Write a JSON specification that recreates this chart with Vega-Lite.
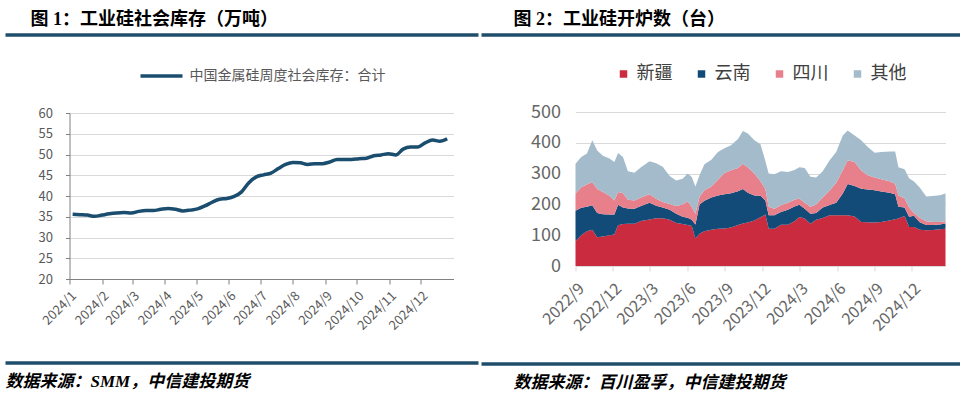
{
  "$schema": "https://vega.github.io/schema/vega-lite/v6.json",
  "background": "white",
  "padding": {"left": 3.5, "top": 11, "right": 0, "bottom": 0},
  "config": {
    "font": "Noto Sans CJK SC",
    "view": {"stroke": null},
    "axis": {"labelFont": "Noto Sans CJK SC", "title": null},
    "legend": {"layout": {"top": {"anchor": "middle"}}}
  },
  "spacing": -1,
  "resolve": {"scale": {"color": "independent"}, "legend": {"color": "independent"}},
  "hconcat": [
    {
      "columns": 1,
      "align": "none",
      "spacing": 16,
      "resolve": {"scale": {"color": "independent"}, "legend": {"color": "independent"}},
      "concat": [
        {
          "title": {"text": "图 1：工业硅社会库存（万吨）", "anchor": "start", "frame": "group", "dx": -39, "font": "Liberation Serif, Noto Sans CJK SC", "fontSize": 18, "fontWeight": "bold", "color": "#000000", "offset": 4},
          "width": 409, "height": 1,
          "data": {"values": [{}]},
          "mark": {"type": "rule", "color": "#1F4E6B", "strokeWidth": 3.5},
          "encoding": {
            "x": {"datum": -64, "scale": {"domain": [0, 409]}, "axis": null},
            "x2": {"datum": 409},
            "y": {"datum": 1, "scale": {"domain": [0, 1]}, "axis": null}
          }
        },
        {
          "width": 384, "height": 166,
          "data": {"values": [
            {"d": "2024-01-04", "v": 35.6}, {"d": "2024-01-11", "v": 35.5}, {"d": "2024-01-18", "v": 35.4}, {"d": "2024-01-25", "v": 35.1},
            {"d": "2024-02-01", "v": 35.4}, {"d": "2024-02-08", "v": 35.7}, {"d": "2024-02-15", "v": 35.9}, {"d": "2024-02-22", "v": 36.0},
            {"d": "2024-02-29", "v": 35.9}, {"d": "2024-03-07", "v": 36.3}, {"d": "2024-03-14", "v": 36.5}, {"d": "2024-03-21", "v": 36.5},
            {"d": "2024-03-28", "v": 36.8}, {"d": "2024-04-04", "v": 37.0}, {"d": "2024-04-11", "v": 36.8}, {"d": "2024-04-18", "v": 36.4},
            {"d": "2024-04-25", "v": 36.6}, {"d": "2024-05-02", "v": 36.9}, {"d": "2024-05-09", "v": 37.6}, {"d": "2024-05-16", "v": 38.5},
            {"d": "2024-05-23", "v": 39.2}, {"d": "2024-05-30", "v": 39.4}, {"d": "2024-06-06", "v": 39.9}, {"d": "2024-06-13", "v": 41.0},
            {"d": "2024-06-20", "v": 43.2}, {"d": "2024-06-27", "v": 44.6}, {"d": "2024-07-04", "v": 45.1}, {"d": "2024-07-11", "v": 45.5},
            {"d": "2024-07-18", "v": 46.6}, {"d": "2024-07-25", "v": 47.6}, {"d": "2024-08-01", "v": 48.1}, {"d": "2024-08-08", "v": 48.0},
            {"d": "2024-08-15", "v": 47.6}, {"d": "2024-08-22", "v": 47.8}, {"d": "2024-08-29", "v": 47.8}, {"d": "2024-09-05", "v": 48.2},
            {"d": "2024-09-12", "v": 48.8}, {"d": "2024-09-19", "v": 48.8}, {"d": "2024-09-26", "v": 48.8}, {"d": "2024-10-03", "v": 49.0},
            {"d": "2024-10-10", "v": 49.1}, {"d": "2024-10-17", "v": 49.7}, {"d": "2024-10-24", "v": 49.9}, {"d": "2024-10-31", "v": 50.2},
            {"d": "2024-11-07", "v": 49.9}, {"d": "2024-11-14", "v": 51.3}, {"d": "2024-11-21", "v": 51.8}, {"d": "2024-11-28", "v": 51.8},
            {"d": "2024-12-05", "v": 52.8}, {"d": "2024-12-12", "v": 53.5}, {"d": "2024-12-19", "v": 53.2}, {"d": "2024-12-26", "v": 53.8}
          ]},
          "mark": {"type": "line", "strokeWidth": 3.5, "interpolate": "monotone"},
          "encoding": {
            "x": {
              "field": "d", "type": "temporal",
              "scale": {"domain": [{"year": 2024, "month": 1, "date": 1}, {"year": 2025, "month": 1, "date": 1}]},
              "axis": {
                "values": [
                  {"year": 2024, "month": 1, "date": 1}, {"year": 2024, "month": 2, "date": 1}, {"year": 2024, "month": 3, "date": 1},
                  {"year": 2024, "month": 4, "date": 1}, {"year": 2024, "month": 5, "date": 1}, {"year": 2024, "month": 6, "date": 1},
                  {"year": 2024, "month": 7, "date": 1}, {"year": 2024, "month": 8, "date": 1}, {"year": 2024, "month": 9, "date": 1},
                  {"year": 2024, "month": 10, "date": 1}, {"year": 2024, "month": 11, "date": 1}, {"year": 2024, "month": 12, "date": 1}
                ],
                "format": "%Y/%-m", "labelAngle": -45, "grid": false,
                "domainColor": "#808080", "tickColor": "#808080", "tickSize": 5,
                "labelFontSize": 13, "labelColor": "#595959", "labelPadding": 5, "labelFlush": false, "labelOverlap": false
              }
            },
            "y": {
              "field": "v", "type": "quantitative",
              "scale": {"domain": [20, 60]},
              "axis": {
                "values": [20, 25, 30, 35, 40, 45, 50, 55, 60],
                "grid": true, "gridColor": "#D9D9D9", "domainColor": "#808080", "tickColor": "#808080", "tickSize": 4,
                "labelFontSize": 13, "labelColor": "#595959", "labelPadding": 13, "minExtent": 64
              }
            },
            "color": {
              "datum": "中国金属硅周度社会库存：合计",
              "scale": {"range": ["#1B4D6E"]},
              "legend": {
                "orient": "top", "offset": 30, "title": null,
                "symbolType": "stroke", "symbolSize": 1764, "symbolStrokeWidth": 3.5,
                "labelFontSize": 14, "labelColor": "#595959", "labelOffset": 5, "labelLimit": 400
              }
            }
          }
        },
        {
          "title": {"text": "数据来源：SMM，中信建投期货", "orient": "bottom", "anchor": "start", "frame": "group", "dx": -64, "font": "Liberation Serif, Noto Sans CJK SC", "fontSize": 17, "fontStyle": "italic", "fontWeight": "bold", "color": "#000000", "offset": 9},
          "width": 409, "height": 14,
          "data": {"values": [{}]},
          "mark": {"type": "rule", "color": "#1F4E6B", "strokeWidth": 3.5},
          "encoding": {
            "x": {"datum": -64, "scale": {"domain": [0, 409]}, "axis": null},
            "x2": {"datum": 409},
            "y": {"datum": 0, "scale": {"domain": [0, 1]}, "axis": null}
          }
        }
      ]
    },
    {
      "columns": 1,
      "align": "none",
      "spacing": 28,
      "resolve": {"scale": {"color": "independent"}, "legend": {"color": "independent"}},
      "concat": [
        {
          "title": {"text": "图 2：工业硅开炉数（台）", "anchor": "start", "frame": "group", "dx": -62, "font": "Liberation Serif, Noto Sans CJK SC", "fontSize": 18, "fontWeight": "bold", "color": "#000000", "offset": 4},
          "width": 386, "height": 1,
          "data": {"values": [{}]},
          "mark": {"type": "rule", "color": "#1F4E6B", "strokeWidth": 3.5},
          "encoding": {
            "x": {"datum": -94, "scale": {"domain": [0, 386]}, "axis": null},
            "x2": {"datum": 386},
            "y": {"datum": 1, "scale": {"domain": [0, 1]}, "axis": null}
          }
        },
        {
          "width": 370, "height": 154,
          "data": {"values": [
            {"d": "2022-09-01", "新疆": 80, "云南": 99, "四川": 56, "其他": 97},
            {"d": "2022-09-15", "新疆": 100, "云南": 89, "四川": 67, "其他": 98},
            {"d": "2022-09-29", "新疆": 113, "云南": 79, "四川": 73, "其他": 100},
            {"d": "2022-10-12", "新疆": 118, "云南": 79, "四川": 76, "其他": 135},
            {"d": "2022-10-24", "新疆": 93, "云南": 79, "四川": 78, "其他": 125},
            {"d": "2022-11-07", "新疆": 96, "云南": 72, "四川": 72, "其他": 118},
            {"d": "2022-11-23", "新疆": 100, "云南": 67, "四川": 61, "其他": 121},
            {"d": "2022-12-05", "新疆": 102, "云南": 65, "四川": 46, "其他": 125},
            {"d": "2022-12-14", "新疆": 132, "云南": 67, "四川": 41, "其他": 127},
            {"d": "2022-12-26", "新疆": 136, "云南": 54, "四川": 46, "其他": 118},
            {"d": "2023-01-07", "新疆": 137, "云南": 50, "四川": 28, "其他": 93},
            {"d": "2023-01-23", "新疆": 137, "云南": 49, "四川": 27, "其他": 90},
            {"d": "2023-02-08", "新疆": 146, "云南": 49, "四川": 27, "其他": 99},
            {"d": "2023-03-01", "新疆": 151, "云南": 54, "四川": 28, "其他": 107},
            {"d": "2023-03-17", "新疆": 155, "云南": 41, "四川": 22, "其他": 116},
            {"d": "2023-04-02", "新疆": 155, "云南": 35, "四川": 18, "其他": 114},
            {"d": "2023-04-19", "新疆": 150, "云南": 33, "四川": 18, "其他": 91},
            {"d": "2023-05-05", "新疆": 140, "云南": 30, "四川": 25, "其他": 83},
            {"d": "2023-05-21", "新疆": 136, "云南": 24, "四川": 40, "其他": 83},
            {"d": "2023-06-02", "新疆": 133, "云南": 24, "四川": 53, "其他": 90},
            {"d": "2023-06-12", "新疆": 130, "云南": 20, "四川": 42, "其他": 97},
            {"d": "2023-06-21", "新疆": 89, "云南": 46, "四川": 35, "其他": 88},
            {"d": "2023-07-01", "新疆": 105, "云南": 95, "四川": 25, "其他": 70},
            {"d": "2023-07-13", "新疆": 113, "云南": 99, "四川": 34, "其他": 84},
            {"d": "2023-07-30", "新疆": 118, "云南": 104, "四川": 36, "其他": 87},
            {"d": "2023-08-15", "新疆": 121, "云南": 108, "四川": 51, "其他": 90},
            {"d": "2023-08-31", "新疆": 122, "云南": 111, "四川": 69, "其他": 80},
            {"d": "2023-09-16", "新疆": 125, "云南": 111, "四川": 75, "其他": 81},
            {"d": "2023-10-03", "新疆": 133, "云南": 110, "四川": 75, "其他": 94},
            {"d": "2023-10-15", "新疆": 138, "云南": 112, "四川": 82, "其他": 106},
            {"d": "2023-10-27", "新疆": 141, "云南": 97, "四川": 83, "其他": 109},
            {"d": "2023-11-12", "新疆": 148, "云南": 81, "四川": 71, "其他": 108},
            {"d": "2023-11-27", "新疆": 158, "云南": 70, "四川": 47, "其他": 120},
            {"d": "2023-12-09", "新疆": 167, "云南": 46, "四川": 37, "其他": 90},
            {"d": "2023-12-17", "新疆": 121, "云南": 44, "四川": 27, "其他": 108},
            {"d": "2023-12-31", "新疆": 121, "云南": 44, "四川": 21, "其他": 112},
            {"d": "2024-01-16", "新疆": 134, "云南": 41, "四川": 22, "其他": 111},
            {"d": "2024-02-02", "新疆": 134, "云南": 49, "四川": 22, "其他": 100},
            {"d": "2024-02-18", "新疆": 145, "云南": 48, "四川": 22, "其他": 97},
            {"d": "2024-03-01", "新疆": 159, "云南": 40, "四川": 20, "其他": 102},
            {"d": "2024-03-14", "新疆": 154, "云南": 32, "四川": 19, "其他": 113},
            {"d": "2024-03-28", "新疆": 137, "云南": 33, "四川": 22, "其他": 98},
            {"d": "2024-04-11", "新疆": 150, "云南": 22, "四川": 28, "其他": 87},
            {"d": "2024-04-27", "新疆": 156, "云南": 34, "四川": 32, "其他": 86},
            {"d": "2024-05-14", "新疆": 165, "云南": 33, "四川": 47, "其他": 98},
            {"d": "2024-05-30", "新疆": 165, "云南": 40, "四川": 65, "其他": 100},
            {"d": "2024-06-15", "新疆": 165, "云南": 70, "四川": 76, "其他": 113},
            {"d": "2024-06-27", "新疆": 165, "云南": 101, "四川": 77, "其他": 97},
            {"d": "2024-07-14", "新疆": 161, "云南": 99, "四川": 78, "其他": 86},
            {"d": "2024-07-30", "新疆": 143, "云南": 108, "四川": 59, "其他": 98},
            {"d": "2024-08-15", "新疆": 142, "云南": 106, "四川": 47, "其他": 91},
            {"d": "2024-09-01", "新疆": 141, "云南": 105, "四川": 41, "其他": 81},
            {"d": "2024-09-17", "新疆": 143, "云南": 99, "四川": 40, "其他": 88},
            {"d": "2024-10-07", "新疆": 148, "云南": 90, "四川": 37, "其他": 97},
            {"d": "2024-10-21", "新疆": 152, "云南": 81, "四川": 34, "其他": 105},
            {"d": "2024-10-29", "新疆": 154, "云南": 38, "四川": 37, "其他": 92},
            {"d": "2024-11-13", "新疆": 162, "云南": 28, "四川": 30, "其他": 94},
            {"d": "2024-11-24", "新疆": 127, "云南": 33, "四川": 30, "其他": 95},
            {"d": "2024-12-06", "新疆": 127, "云南": 36, "四川": 9, "其他": 102},
            {"d": "2024-12-20", "新疆": 118, "云南": 24, "四川": 15, "其他": 98},
            {"d": "2025-01-05", "新疆": 116, "云南": 17, "四川": 12, "其他": 81},
            {"d": "2025-01-21", "新疆": 117, "云南": 16, "四川": 10, "其他": 84},
            {"d": "2025-02-07", "新疆": 119, "云南": 16, "四川": 8, "其他": 87},
            {"d": "2025-02-21", "新疆": 121, "云南": 17, "四川": 7, "其他": 90}
          ]},
          "transform": [
            {"fold": ["新疆", "云南", "四川", "其他"], "as": ["region", "value"]},
            {"calculate": "indexof(['新疆','云南','四川','其他'], datum.region)", "as": "k"}
          ],
          "mark": {"type": "area", "interpolate": "linear"},
          "encoding": {
            "x": {
              "field": "d", "type": "temporal",
              "scale": {"domain": [{"year": 2022, "month": 9, "date": 1}, {"year": 2025, "month": 2, "date": 21}]},
              "axis": {
                "values": [
                  {"year": 2022, "month": 9, "date": 1}, {"year": 2022, "month": 12, "date": 1},
                  {"year": 2023, "month": 3, "date": 1}, {"year": 2023, "month": 6, "date": 1},
                  {"year": 2023, "month": 9, "date": 1}, {"year": 2023, "month": 12, "date": 1},
                  {"year": 2024, "month": 3, "date": 1}, {"year": 2024, "month": 6, "date": 1},
                  {"year": 2024, "month": 9, "date": 1}, {"year": 2024, "month": 12, "date": 1}
                ],
                "format": "%Y/%-m", "labelAngle": -45, "grid": false,
                "domainColor": "#D9D9D9", "tickColor": "#D9D9D9", "tickSize": 5,
                "labelFontSize": 16, "labelColor": "#666666", "labelPadding": 9, "labelFlush": false, "labelOverlap": false
              }
            },
            "y": {
              "field": "value", "type": "quantitative", "stack": "zero",
              "scale": {"domain": [0, 500]},
              "axis": {
                "values": [0, 100, 200, 300, 400, 500],
                "grid": true, "gridColor": "#D9D9D9", "domain": false, "ticks": false,
                "labelFontSize": 18, "labelColor": "#666666", "labelPadding": 15, "minExtent": 94
              }
            },
            "color": {
              "field": "region", "type": "nominal",
              "scale": {"domain": ["新疆", "云南", "四川", "其他"], "range": ["#CB2B3E", "#134B78", "#E8808C", "#A4BBCB"]},
              "legend": {
                "orient": "top", "offset": 29, "direction": "horizontal", "title": null,
                "symbolType": "square", "symbolSize": 56, "symbolStrokeWidth": 0,
                "labelFontSize": 18, "labelColor": "#404040", "labelOffset": 4, "columnPadding": 20
              }
            },
            "order": {"field": "k", "type": "quantitative"}
          }
        },
        {
          "title": {"text": "数据来源：百川盈孚，中信建投期货", "orient": "bottom", "anchor": "start", "frame": "group", "dx": -62, "font": "Liberation Serif, Noto Sans CJK SC", "fontSize": 17, "fontStyle": "italic", "fontWeight": "bold", "color": "#000000", "offset": 9},
          "width": 386, "height": 2,
          "data": {"values": [{}]},
          "mark": {"type": "rule", "color": "#1F4E6B", "strokeWidth": 3.5},
          "encoding": {
            "x": {"datum": -94, "scale": {"domain": [0, 386]}, "axis": null},
            "x2": {"datum": 386},
            "y": {"datum": 0, "scale": {"domain": [0, 1]}, "axis": null}
          }
        }
      ]
    }
  ]
}
